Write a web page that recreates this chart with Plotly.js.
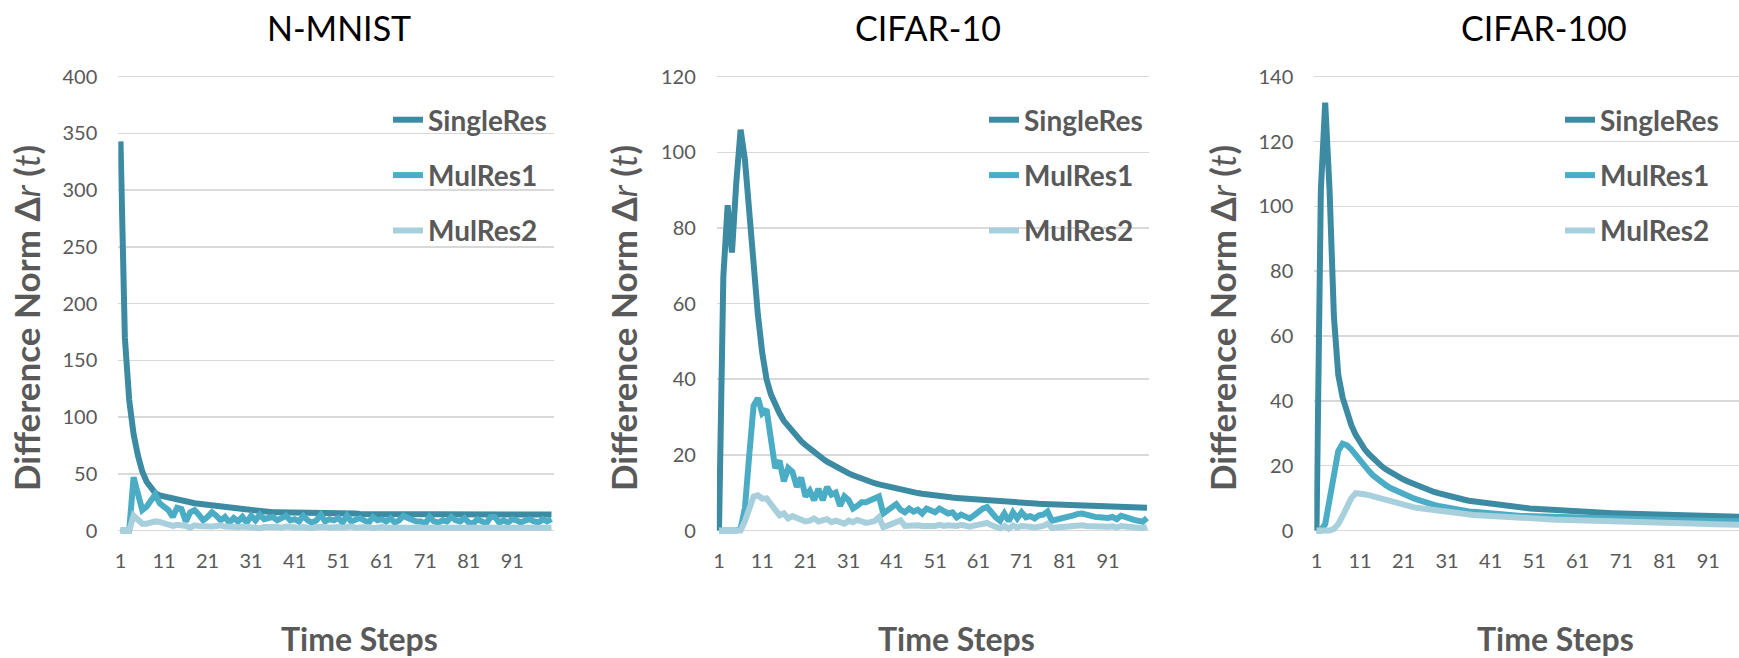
<!DOCTYPE html>
<html>
<head>
<meta charset="utf-8">
<script src="https://cdn.plot.ly/plotly-3.0.1.min.js"></script>
<style>html,body{margin:0;padding:0;background:#fff}#chart{width:1739px;height:658px}</style>
</head>
<body>
<div id="chart"></div>
<script>
// ---------------- data ----------------
const timeSteps = Array.from({length: 100}, (_, i) => i + 1);
const xTickVals = [1, 11, 21, 31, 41, 51, 61, 71, 81, 91];
const seriesNames = ['SingleRes', 'MulRes1', 'MulRes2'];
const panelTitles = ['N-MNIST', 'CIFAR-10', 'CIFAR-100'];

const nmnistSingleRes = [343,170,115,85,66,52,43,37,33,31,
  30,29.5,28.5,27,26,25,24.5,24,23.5,23,
  22.5,22,21.5,21,20.5,20,19.5,19,18.5,18,
  17.5,17,17,16.5,16.5,16,16,16,15.5,15.5,
  15.5,15.5,15,15.2,15,15,15.5,15,15,15,
  14.8,15,14.8,14.8,15,14.5,14.5,14.8,14.5,14.5,
  15,14.5,14.3,14.3,14.5,14.3,14.3,14,14,14.3,
  14,14,14,14,14,14,14,14,13.8,14,
  14,14,14,14,14,13.8,14,14,14,14,
  14.2,14,14,14,14,14,14,14,14,14];
const nmnistMulRes1 = [0,0,0,47,30,18,21,26,32,24,
  21,18,12,20,19,8,16,18,14,9,
  12,16,13,9,12,7,11,8,12,7,
  13,9,14,10,11,12,9,11,13,9,
  10,8,13,9,7,9,14,8,10,9,
  11,7,13,8,10,11,9,7,12,9,
  10,8,11,7,9,13,11,9,8,8,
  6,12,8,7,9,8,12,9,8,11,
  7,6,10,8,6,12,12,7,9,7,
  10,9,7,9,10,8,7,10,8,10];
const nmnistMulRes2 = [0,0,0,13,9,6,6,7,8,7.5,
  6,5,4,5,5,4,2.5,4.5,4,3.5,
  3,3.5,4,4.5,3.5,3,2.5,3,3.5,3,
  2.5,3,2,3,3.5,3,3,2.5,3.5,3,
  3,2.5,3,2,2,3,3.5,3,2.5,3,
  3,2.5,3,3.5,2.5,3,2.5,3,2,3,
  3,2.5,2.5,3,3,2,2.5,3,3,2.5,
  2.5,2,2.5,2.5,3,3,2.5,3,2.5,2.5,
  2.5,3,2,2.5,3,2.5,2,2.5,2.5,3,
  2.5,3,2.5,2.5,2.5,2,2.5,2.5,3,2.5];

const cifar10SingleRes = [0,67,86,73.5,92,106,98,84,70,57,
  47,40,36,33,31,29,27.5,26,24.8,23.6,
  22.6,21.6,20.7,19.8,19,18.2,17.5,16.8,16.2,15.6,
  15.1,14.6,14.1,13.7,13.3,12.9,12.5,12.2,11.9,11.6,
  11.3,11,10.8,10.5,10.3,10.1,9.9,9.7,9.5,9.4,
  9.2,9.1,8.9,8.8,8.7,8.6,8.5,8.4,8.3,8.2,
  8.1,8,7.9,7.8,7.75,7.7,7.6,7.5,7.45,7.4,
  7.3,7.25,7.2,7.1,7.05,7,6.95,6.9,6.85,6.8,
  6.75,6.7,6.65,6.6,6.55,6.5,6.45,6.4,6.4,6.35,
  6.3,6.3,6.25,6.2,6.2,6.15,6.1,6.1,6.05,6];
const cifar10MulRes1 = [0,0,0,0,0,0.5,6,20,33,35,
  31,32,25,16.5,18.5,13,16.5,15.5,11.5,14,
  9,10.5,8,11,8,11.5,9.5,10,6.5,9,
  8,5.8,6.5,7.5,7.5,8,8.5,9,4.5,5.5,
  6.5,7,5.5,4.8,5.8,5,5.5,4.5,5.8,5.5,
  4.8,5.8,5,4.5,4.8,3.5,4.2,3.8,3.2,4,
  5,5.8,6.2,4.5,3.5,2.6,4.5,2.5,4.8,3.2,
  4.8,3.5,3.8,3.2,4,4.2,5,2.6,2.8,3,
  3.2,3.8,4,4.4,4.5,4.2,3.8,3.6,3.5,3.2,
  3.3,3.6,3,3.9,3.7,3.2,2.8,2.6,2.3,3.3];
const cifar10MulRes2 = [0,0,0,0,0,0,2.5,6,9,9.3,
  8.4,8.5,7,5,4,4.5,3.2,3.8,3.4,2.8,
  2.4,2.6,3.2,2.4,2.8,3,2.2,2.6,2.2,1.8,
  2.6,2.2,2.8,2.2,2,2.2,2.5,3.5,0.9,1.3,
  1.8,2.2,2.7,1.2,1.3,1.2,1.4,1.2,1.1,1.3,
  1.2,1.5,1.2,1.4,1.1,1.2,1.5,1.2,1,1.3,
  1.6,1.8,2,1.4,1,0.6,1.2,0.5,1.3,0.8,
  1.2,0.9,1,0.8,1,1.2,1.8,0.7,0.8,0.9,
  1,1.2,1.3,1.5,1.4,1.2,1.1,1,1,0.9,
  1,1.1,0.8,1.2,1.1,0.9,0.8,0.7,0.6,1];

const cifar100SingleRes = [0,105,132,105,66,48,41,36,32.5,29.5,
  27,25.2,23.6,22.2,21,19.8,18.8,17.9,17.1,16.4,
  15.7,15.1,14.5,14,13.4,12.9,12.4,11.9,11.5,11.1,
  10.7,10.4,10.1,9.8,9.5,9.2,9,8.8,8.6,8.4,
  8.2,8,7.8,7.6,7.45,7.3,7.15,7,6.9,6.8,
  6.7,6.6,6.5,6.4,6.3,6.2,6.1,6,5.95,5.9,
  5.8,5.75,5.7,5.6,5.55,5.5,5.45,5.4,5.35,5.3,
  5.25,5.2,5.15,5.1,5.05,5,4.95,4.9,4.85,4.8,
  4.75,4.7,4.68,4.65,4.6,4.58,4.55,4.5,4.48,4.45,
  4.42,4.4,4.38,4.35,4.32,4.3,4.28,4.25,4.22,4.2];
const cifar100MulRes1 = [0,0,2,10,18,24.5,26.8,26.3,25,23.2,
  21.5,20,18.4,17,15.8,14.8,13.9,13.1,12.4,11.8,
  11.2,10.6,10.1,9.6,9.1,8.7,8.3,7.9,7.6,7.3,
  7,6.75,6.5,6.3,6.1,5.9,5.75,5.6,5.45,5.3,
  5.2,5.1,5,4.9,4.8,4.7,4.6,4.5,4.45,4.4,
  4.35,4.3,4.25,4.2,4.15,4.1,4.05,4,3.95,3.9,
  3.85,3.8,3.78,3.75,3.72,3.7,3.65,3.6,3.58,3.55,
  3.52,3.5,3.48,3.45,3.42,3.4,3.38,3.35,3.32,3.3,
  3.28,3.25,3.22,3.2,3.18,3.15,3.12,3.1,3.08,3.05,
  3.02,3,2.98,2.96,2.94,2.92,2.9,2.88,2.86,2.84];
const cifar100MulRes2 = [0,0,0,0,0.5,2,4.5,7,10,11.5,
  11.5,11.2,10.9,10.5,10.1,9.7,9.3,8.9,8.5,8.2,
  7.9,7.6,7.3,7,6.8,6.6,6.4,6.2,6,5.8,
  5.6,5.45,5.3,5.15,5,4.9,4.8,4.7,4.6,4.5,
  4.4,4.3,4.2,4.1,4,3.95,3.9,3.8,3.75,3.7,
  3.6,3.55,3.5,3.45,3.4,3.35,3.3,3.25,3.2,3.15,
  3.1,3.05,3,2.95,2.9,2.85,2.8,2.75,2.7,2.65,
  2.6,2.55,2.5,2.48,2.45,2.42,2.4,2.35,2.3,2.28,
  2.25,2.2,2.18,2.15,2.12,2.1,2.08,2.05,2.02,2,
  1.98,1.95,1.92,1.9,1.88,1.85,1.82,1.8,1.78,1.75];

// ---------------- layout helpers ----------------
const W = 1739, H = 658;
const FONT = 'Lato, "Open Sans", "DejaVu Sans", sans-serif';
const GREY = '#595959';
const COLORS = ['#3C8BA3', '#4BACC6', '#A8D0DC'];

const panels = [
  {data: [nmnistSingleRes, nmnistMulRes1, nmnistMulRes2], x0: 120.5, k: 4.3535, xEndPx: null, ymax: 400, dtick: 50,
   titleX: 339, yTitleX: 26, tsX: 359, legendTextX: 433},
  {data: [cifar10SingleRes, cifar10MulRes1, cifar10MulRes2], x0: 719, k: 4.323, xEndPx: null, ymax: 120, dtick: 20,
   titleX: 928, yTitleX: 623, tsX: 956, legendTextX: 1029},
  {data: [cifar100SingleRes, cifar100MulRes1, cifar100MulRes2], x0: 1316.5, k: 4.3535, xEndPx: W, ymax: 140, dtick: 20,
   titleX: 1544, yTitleX: 1222, tsX: 1555, legendTextX: 1605}
];
const Y0PX = 530.5, YTOPPX = 76.7, PAD = 4;

const traces = [];
const layout = {
  width: W, height: H,
  margin: {l: 0, r: 0, t: 0, b: 0},
  paper_bgcolor: '#ffffff', plot_bgcolor: '#ffffff',
  font: {family: FONT, color: GREY},
  annotations: [],
  showlegend: true
};

panels.forEach((p, i) => {
  const sfx = i === 0 ? '' : String(i + 1);
  const tMin = 1 - 0.5;
  let tMax, xRightPx;
  if (p.xEndPx) { xRightPx = p.xEndPx; tMax = 1 + (p.xEndPx - p.x0) / p.k; }
  else { tMax = 100 + 0.5; xRightPx = p.x0 + (tMax - 1) * p.k; }
  const xLeftPx = p.x0 - 0.5 * p.k;
  const ky = (Y0PX - YTOPPX) / p.ymax;
  const yMin = -PAD / ky, yMax = p.ymax + PAD / ky;

  layout['xaxis' + sfx] = {
    domain: [xLeftPx / W, Math.min(1, xRightPx / W)],
    range: [tMin, tMax],
    anchor: 'y' + sfx,
    tickmode: 'array', tickvals: xTickVals, ticktext: xTickVals.map(String),
    showgrid: false, zeroline: false, showline: false, ticks: '',
    tickfont: {family: FONT, size: 20, color: GREY},
    ticklabelstandoff: 12,
    fixedrange: true
  };
  layout['yaxis' + sfx] = {
    domain: [1 - (Y0PX + PAD) / H, 1 - (YTOPPX - PAD) / H],
    range: [yMin, yMax],
    anchor: 'x' + sfx,
    tick0: 0, dtick: p.dtick,
    showgrid: true, gridcolor: '#D9D9D9', gridwidth: 1.5,
    zeroline: false, showline: false, ticks: '',
    tickfont: {family: FONT, size: 20, color: GREY},
    ticklabelstandoff: 20,
    fixedrange: true
  };
  const legKey = 'legend' + sfx;
  layout[legKey] = {
    x: (p.legendTextX - 45) / W, xanchor: 'left',
    y: 1 - 95 / H, yanchor: 'top',
    bgcolor: 'rgba(0,0,0,0)', borderwidth: 0,
    font: {family: FONT, size: 28, color: GREY, weight: 'bold'},
    traceorder: 'grouped', tracegroupgap: 16
  };

  p.data.forEach((vals, j) => {
    traces.push({
      type: 'scatter', mode: 'lines',
      x: timeSteps, y: vals,
      name: seriesNames[j],
      legend: legKey, legendgroup: 'g' + i + '_' + j,
      xaxis: 'x' + sfx, yaxis: 'y' + sfx,
      line: {color: COLORS[j], width: 6, shape: 'linear'},
      hoverinfo: 'skip'
    });
  });

  layout.annotations.push({
    xref: 'paper', yref: 'paper', x: p.titleX / W, y: 1 - 27 / H,
    xanchor: 'center', yanchor: 'middle', showarrow: false,
    text: panelTitles[i], font: {family: FONT, size: 34, color: '#000000'}
  });
  layout.annotations.push({
    xref: 'paper', yref: 'paper', x: p.yTitleX / W, y: 1 - 318 / H,
    xanchor: 'center', yanchor: 'middle', showarrow: false, textangle: -90,
    text: '<b>Difference Norm Δ</b><i>r</i><b> (</b><i>t</i><b>)</b>',
    font: {family: FONT, size: 35, color: GREY}
  });
  layout.annotations.push({
    xref: 'paper', yref: 'paper', x: p.tsX / W, y: 1 - 638 / H,
    xanchor: 'center', yanchor: 'middle', showarrow: false,
    text: '<b>Time Steps</b>', font: {family: FONT, size: 32, color: GREY}
  });
});

Plotly.newPlot('chart', traces, layout, {displayModeBar: false, staticPlot: true});
</script>
</body>
</html>
